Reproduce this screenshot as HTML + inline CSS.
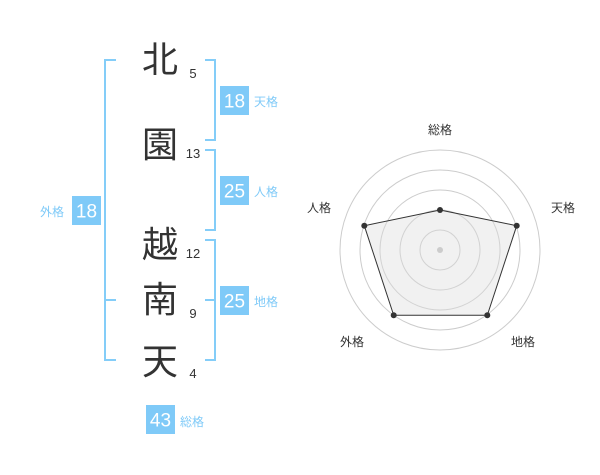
<!DOCTYPE html>
<html><head><meta charset="utf-8"><style>
body{margin:0;width:600px;height:470px;background:#fff;overflow:hidden;font-family:"Liberation Sans","Noto Sans CJK JP",sans-serif}
</style></head><body>
<svg width="600" height="470" xmlns="http://www.w3.org/2000/svg" font-family="Liberation Sans, Noto Sans CJK JP, sans-serif">
<g stroke="#84cdf8" stroke-width="2" fill="none">
<path d="M116 60H105V360H116M105 300H116"/>
<path d="M205 60H215V140H205"/>
<path d="M205 150H215V230H205"/>
<path d="M205 240H215V360H205M205 300H215"/>
</g>
<g fill="#333" font-size="36" text-anchor="middle" font-family="Noto Sans CJK JP, sans-serif">
<text x="160" y="72">北</text>
<text x="160" y="157">園</text>
<text x="160" y="257">越</text>
<text x="160" y="312">南</text>
<text x="160" y="374">天</text>
</g>
<g fill="#333" font-size="13" text-anchor="middle">
<text x="193" y="78">5</text>
<text x="193" y="158">13</text>
<text x="193" y="258">12</text>
<text x="193" y="318">9</text>
<text x="193" y="378">4</text>
</g>
<g fill="#7fcaf8">
<rect x="220" y="86" width="29" height="29"/>
<rect x="220" y="176" width="29" height="29"/>
<rect x="220" y="286" width="29" height="29"/>
<rect x="72" y="196" width="29" height="29"/>
<rect x="146" y="405" width="29" height="29"/>
</g>
<g fill="#fff" font-size="19" text-anchor="middle">
<text x="234.5" y="107.5">18</text>
<text x="234.5" y="197.5">25</text>
<text x="234.5" y="307.5">25</text>
<text x="86.5" y="217.5">18</text>
<text x="160.5" y="426.5">43</text>
</g>
<g fill="#7fcaf8" font-size="12" font-family="Noto Sans CJK JP, sans-serif">
<text x="254" y="106">天格</text>
<text x="254" y="196">人格</text>
<text x="254" y="306">地格</text>
<text x="40" y="216">外格</text>
<text x="180" y="426">総格</text>
</g>
<g fill="none" stroke="#ccc" stroke-width="1">
<circle cx="440" cy="250" r="20"/><circle cx="440" cy="250" r="40"/><circle cx="440" cy="250" r="60"/><circle cx="440" cy="250" r="80"/><circle cx="440" cy="250" r="100"/>
</g>
<polygon points="440,210 516.7,225.7 487.3,315.3 393.7,315.3 364.3,225.7" fill="rgba(220,220,220,0.4)" stroke="#333" stroke-width="1"/>
<circle cx="440" cy="250" r="3" fill="#ccc"/>
<g fill="#333">
<circle cx="440" cy="210" r="3"/><circle cx="516.7" cy="225.7" r="3"/><circle cx="487.3" cy="315.3" r="3"/><circle cx="393.7" cy="315.3" r="3"/><circle cx="364.3" cy="225.7" r="3"/>
</g>
<g fill="#333" font-size="12" text-anchor="middle" font-family="Noto Sans CJK JP, sans-serif">
<text x="440" y="134">総格</text>
<text x="563" y="212">天格</text>
<text x="319" y="212">人格</text>
<text x="352" y="346">外格</text>
<text x="523" y="346">地格</text>
</g>
</svg>
</body></html>
